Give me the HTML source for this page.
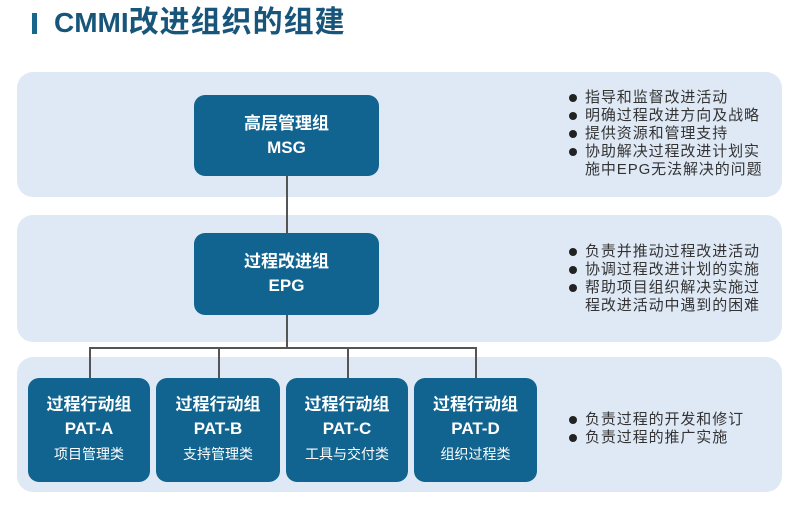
<!DOCTYPE html>
<html><head><meta charset="utf-8"><style>
body{margin:0;width:800px;height:525px;background:#fff;position:relative;overflow:hidden;font-family:"Liberation Sans","Noto Sans CJK SC",sans-serif}
.p{position:absolute;left:17px;width:765px;background:#dfe9f6;border-radius:16px}
.b{position:absolute;background:#11648f;border-radius:11px;color:#fff;font-weight:bold;text-align:center;display:flex;flex-direction:column;justify-content:center;font-size:17px;line-height:24px}
.b small{font-weight:normal;font-size:14px;line-height:26px}
.l{position:absolute;background:#555}
ul{position:absolute;left:569px;margin:0;padding:0;list-style:none;font-size:15px;letter-spacing:0.9px;line-height:18px;color:#333;white-space:nowrap}
li{position:relative;padding-left:16px}
li.d:before{content:"";position:absolute;left:0;top:5px;width:8px;height:8px;border-radius:50%;background:#222}
</style></head><body>
<div style="position:absolute;left:32px;top:13px;width:5px;height:21px;background:#17668e"></div>
<div style="position:absolute;left:54px;top:5px;font-size:28px;font-weight:bold;color:#17557a;line-height:36px;white-space:nowrap">CMMI<span style="font-size:30px;letter-spacing:1px">改进组织的组建</span></div>
<div class="p" style="top:72px;height:125px"></div>
<div class="p" style="top:215px;height:127px"></div>
<div class="p" style="top:357px;height:135px"></div>
<div class="l" style="left:286px;top:176px;width:1.5px;height:57px"></div>
<div class="l" style="left:286px;top:315px;width:1.5px;height:33px"></div>
<div class="l" style="left:89px;top:347px;width:387px;height:1.5px"></div>
<div class="l" style="left:89px;top:347px;width:1.5px;height:31px"></div>
<div class="l" style="left:218px;top:347px;width:1.5px;height:31px"></div>
<div class="l" style="left:347px;top:347px;width:1.5px;height:31px"></div>
<div class="l" style="left:475px;top:347px;width:1.5px;height:31px"></div>
<div class="b" style="left:194px;top:95px;width:185px;height:81px">高层管理组<br>MSG</div>
<div class="b" style="left:194px;top:233px;width:185px;height:82px">过程改进组<br>EPG</div>
<div class="b" style="left:28px;top:378px;width:122px;height:104px"><span>过程行动组</span><span>PAT-A</span><small>项目管理类</small></div>
<div class="b" style="left:156px;top:378px;width:124px;height:104px"><span>过程行动组</span><span>PAT-B</span><small>支持管理类</small></div>
<div class="b" style="left:286px;top:378px;width:122px;height:104px"><span>过程行动组</span><span>PAT-C</span><small>工具与交付类</small></div>
<div class="b" style="left:414px;top:378px;width:123px;height:104px"><span>过程行动组</span><span>PAT-D</span><small>组织过程类</small></div>
<ul style="top:89px"><li class="d">指导和监督改进活动</li><li class="d">明确过程改进方向及战略</li><li class="d">提供资源和管理支持</li><li class="d">协助解决过程改进计划实</li><li>施中EPG无法解决的问题</li></ul>
<ul style="top:243px"><li class="d">负责并推动过程改进活动</li><li class="d">协调过程改进计划的实施</li><li class="d">帮助项目组织解决实施过</li><li>程改进活动中遇到的困难</li></ul>
<ul style="top:411px"><li class="d">负责过程的开发和修订</li><li class="d">负责过程的推广实施</li></ul>
</body></html>
